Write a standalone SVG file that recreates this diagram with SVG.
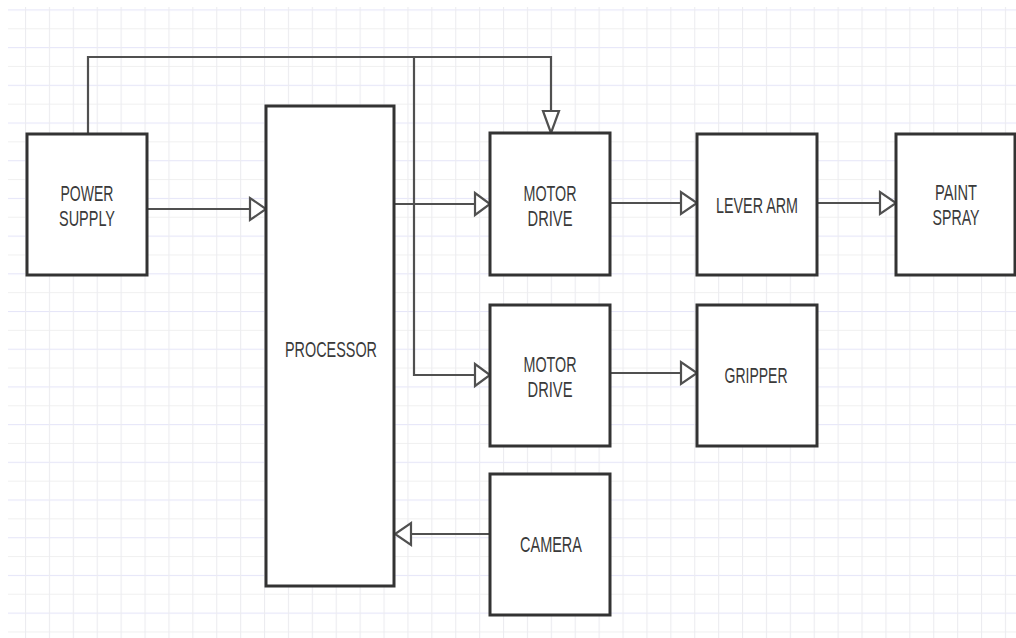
<svg xmlns="http://www.w3.org/2000/svg" width="1016" height="638" viewBox="0 0 1016 638">
<style>
.box{fill:#fff;stroke:#333;stroke-width:3}
.line{fill:none;stroke:#505050;stroke-width:2.2}
.head{fill:#fff;stroke:#505050;stroke-width:2.2;stroke-linejoin:miter}
.lbl{font-family:"Liberation Sans",Arial,sans-serif;font-size:22px;fill:#3a3a3a;text-anchor:middle}
</style>
<defs>
<pattern id="grid" patternUnits="userSpaceOnUse" x="1.1" y="9.4" width="23.9" height="37.7">
<line x1="0" y1="0.5" x2="23.9" y2="0.5" stroke="#e6e6f8" stroke-width="1.2"/>
<line x1="0" y1="19.35" x2="23.9" y2="19.35" stroke="#f0f0f0" stroke-width="1"/>
<line x1="0.5" y1="0" x2="0.5" y2="37.7" stroke="#ececf0" stroke-width="1.2"/>
</pattern>
</defs>
<rect width="1016" height="638" fill="#fff"/>
<rect x="8" y="7" width="1008" height="631" fill="url(#grid)"/>
<g id="connectors">
<polyline class="line" points="88,134 88,57 551,57 551,111"/>
<polygon class="head" points="543,111 559,111 551,133"/>
<polyline class="line" points="414,57 414,375 475,375"/>
<polygon class="head" points="475,364 475,386 490,375"/>
<line class="line" x1="394" y1="204" x2="475" y2="204"/>
<polygon class="head" points="475,193 475,215 490,204"/>
<line class="line" x1="147" y1="209" x2="250" y2="209"/>
<polygon class="head" points="250,198 250,220 266,209"/>
<line class="line" x1="610" y1="203" x2="681" y2="203"/>
<polygon class="head" points="681,192 681,214 697,203"/>
<line class="line" x1="817" y1="203" x2="880" y2="203"/>
<polygon class="head" points="880,192 880,214 896,203"/>
<line class="line" x1="610" y1="373" x2="681" y2="373"/>
<polygon class="head" points="681,362 681,384 697,373"/>
<line class="line" x1="490" y1="534" x2="411" y2="534"/>
<polygon class="head" points="411,523 411,545 395,534"/>
</g>
<g id="power-supply">
<rect class="box" x="27" y="134" width="120" height="141"/>
<text class="lbl" x="87" y="201" textLength="53" lengthAdjust="spacingAndGlyphs">POWER</text>
<text class="lbl" x="87" y="226" textLength="56" lengthAdjust="spacingAndGlyphs">SUPPLY</text>
</g>
<g id="processor">
<rect class="box" x="266" y="106" width="128" height="480"/>
<text class="lbl" x="331" y="357" textLength="92" lengthAdjust="spacingAndGlyphs">PROCESSOR</text>
</g>
<g id="motor-drive-1">
<rect class="box" x="490" y="133" width="120" height="142"/>
<text class="lbl" x="550" y="201" textLength="53" lengthAdjust="spacingAndGlyphs">MOTOR</text>
<text class="lbl" x="550" y="226" textLength="45" lengthAdjust="spacingAndGlyphs">DRIVE</text>
</g>
<g id="lever-arm">
<rect class="box" x="697" y="134" width="120" height="141"/>
<text class="lbl" x="757" y="213" textLength="82" lengthAdjust="spacingAndGlyphs">LEVER ARM</text>
</g>
<g id="paint-spray">
<rect class="box" x="896" y="134" width="119" height="141"/>
<text class="lbl" x="956" y="200" textLength="42" lengthAdjust="spacingAndGlyphs">PAINT</text>
<text class="lbl" x="956" y="225" textLength="47" lengthAdjust="spacingAndGlyphs">SPRAY</text>
</g>
<g id="motor-drive-2">
<rect class="box" x="490" y="305" width="120" height="141"/>
<text class="lbl" x="550" y="372" textLength="53" lengthAdjust="spacingAndGlyphs">MOTOR</text>
<text class="lbl" x="550" y="397" textLength="45" lengthAdjust="spacingAndGlyphs">DRIVE</text>
</g>
<g id="gripper">
<rect class="box" x="697" y="305" width="120" height="141"/>
<text class="lbl" x="756" y="383" textLength="63" lengthAdjust="spacingAndGlyphs">GRIPPER</text>
</g>
<g id="camera">
<rect class="box" x="490" y="474" width="120" height="141"/>
<text class="lbl" x="551" y="552" textLength="62" lengthAdjust="spacingAndGlyphs">CAMERA</text>
</g>
</svg>
